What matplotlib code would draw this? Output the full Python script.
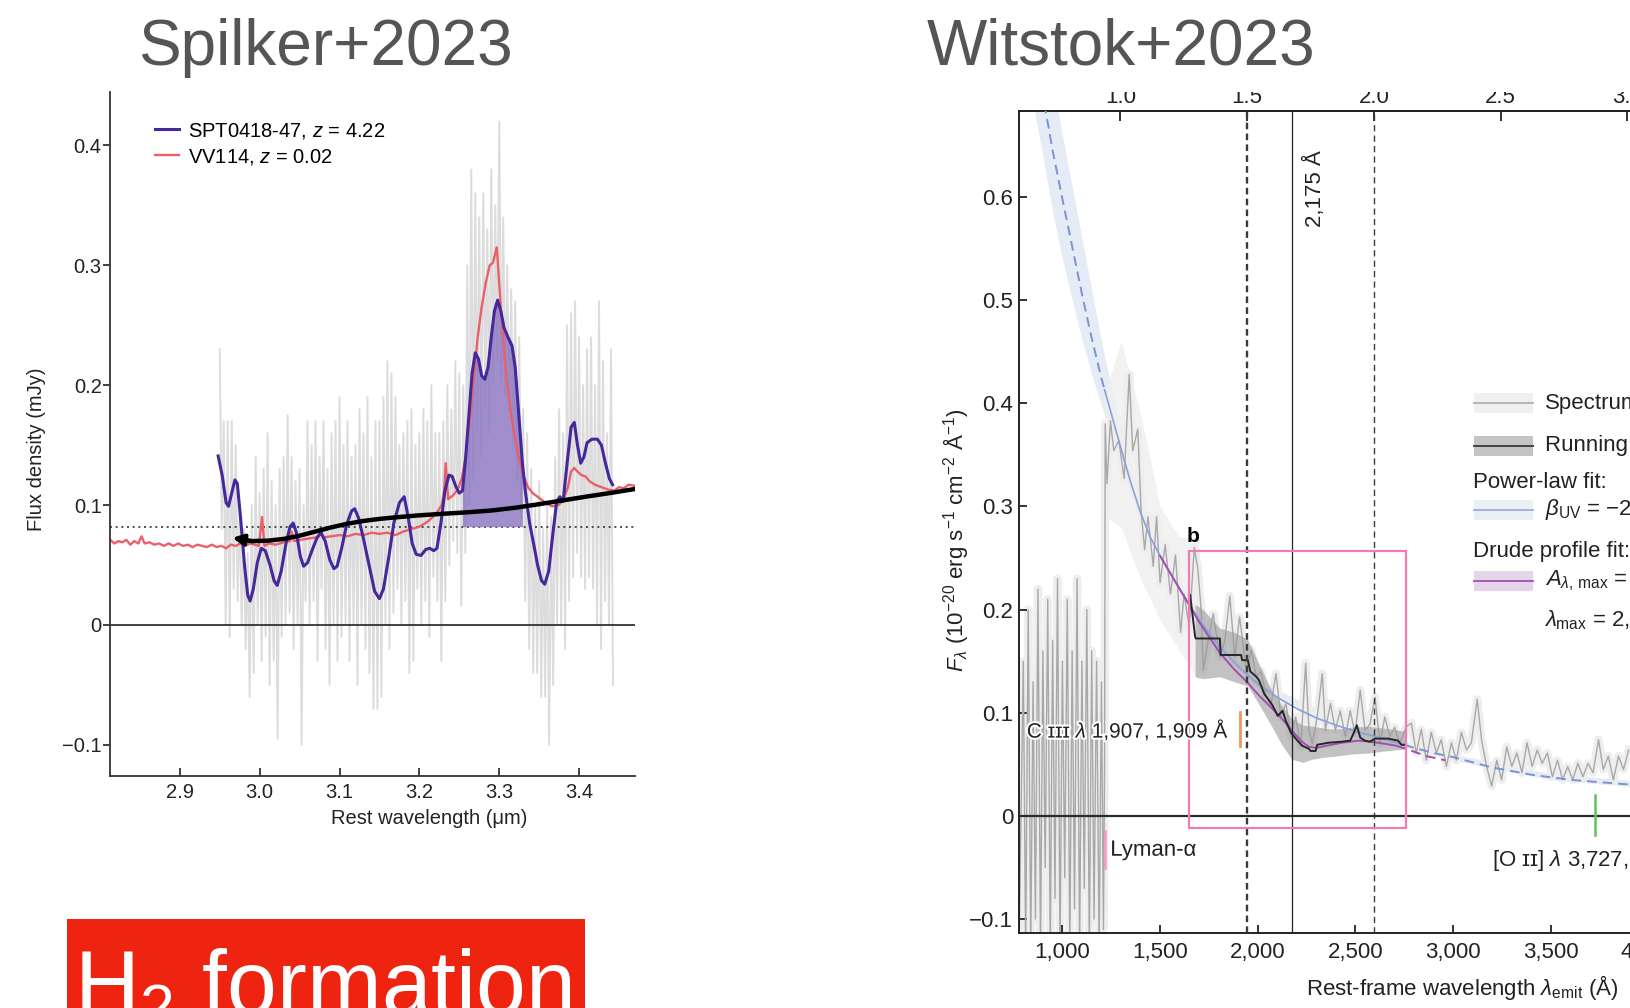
import numpy as np
import matplotlib
matplotlib.use("Agg")
import matplotlib.pyplot as plt
import matplotlib.patheffects as pe
from matplotlib.patches import Rectangle
from matplotlib.lines import Line2D
from matplotlib.ticker import FuncFormatter

plt.rcParams["font.family"] = ["Liberation Sans", "DejaVu Sans"]
plt.rcParams["mathtext.fontset"] = "custom"
plt.rcParams["mathtext.rm"] = "Liberation Sans"
plt.rcParams["mathtext.it"] = "Liberation Sans:italic"
plt.rcParams["mathtext.bf"] = "Liberation Sans:bold"

# ---------------- SPT0418-47 / VV114 (3.3 um PAH) ----------------
# raw spectrum: alternating high/low samples on a 0.005 um grid
spec_wl = np.arange(2.950, 3.4401, 0.005)
spec_hi = [0.23, 0.17, 0.17, 0.17, 0.15, 0.10, 0.08, 0.06, 0.10, 0.14,
           0.11, 0.13, 0.16, 0.12, 0.10, 0.13, 0.14, 0.175, 0.14, 0.12,
           0.13, 0.10, 0.17, 0.15, 0.17, 0.14, 0.17, 0.13, 0.16, 0.17,
           0.19, 0.15, 0.17, 0.14, 0.15, 0.18, 0.16, 0.19, 0.14, 0.17,
           0.17, 0.19, 0.22, 0.21, 0.19, 0.15, 0.16, 0.17, 0.18, 0.15,
           0.16, 0.18, 0.17, 0.20, 0.16, 0.16, 0.17, 0.20, 0.18, 0.22,
           0.21, 0.20, 0.30, 0.38, 0.36, 0.34, 0.36, 0.33, 0.38, 0.35,
           0.42, 0.34, 0.30, 0.28, 0.27, 0.24, 0.18, 0.16, 0.13, 0.10,
           0.12, 0.08, 0.10, 0.09, 0.14, 0.18, 0.16, 0.25, 0.26, 0.27,
           0.24, 0.20, 0.23, 0.24, 0.20, 0.27, 0.22, 0.16, 0.23]
spec_lo = [0.08, 0.0, -0.01, 0.03, 0.02, 0.0, -0.02, -0.06, -0.04, 0.0,
           -0.03, -0.01, -0.05, -0.03, -0.095, -0.01, 0.0, 0.01, -0.02, 0.0,
           -0.10, 0.02, 0.0, 0.02, -0.03, 0.03, -0.02, -0.05, 0.0, -0.03,
           -0.01, 0.0, -0.03, 0.0, -0.05, 0.0, -0.02, -0.04, -0.07, -0.07,
           -0.06, 0.0, -0.02, 0.01, 0.03, 0.0, 0.02, -0.04, -0.03, 0.03,
           0.0, 0.02, -0.01, 0.04, 0.02, -0.03, 0.02, 0.05, 0.07, 0.06,
           0.016, 0.06, 0.10, 0.12, 0.16, 0.14, 0.18, 0.16, 0.20, 0.22,
           0.20, 0.19, 0.18, 0.15, 0.12, 0.09, 0.02, -0.02, -0.04, -0.04,
           -0.06, -0.06, -0.10, -0.05, 0.0, 0.0, -0.02, 0.02, 0.04, 0.06,
           0.04, 0.03, 0.04, 0.03, 0.0, -0.02, 0.02, 0.0, -0.05]

spt_wl = [2.948, 2.953, 2.958, 2.961, 2.965, 2.969, 2.972, 2.976, 2.981, 2.985,
          2.988, 2.992, 2.997, 3.002, 3.007, 3.013, 3.018, 3.022, 3.027, 3.033,
          3.038, 3.042, 3.046, 3.051, 3.055, 3.060, 3.066, 3.072, 3.077, 3.082,
          3.088, 3.093, 3.097, 3.103, 3.109, 3.115, 3.119, 3.124, 3.130, 3.137,
          3.144, 3.150, 3.155, 3.162, 3.168, 3.175, 3.181, 3.186, 3.191, 3.196,
          3.202, 3.208, 3.213, 3.218, 3.222, 3.227, 3.232, 3.237, 3.241, 3.246,
          3.250, 3.254, 3.258, 3.262, 3.266, 3.270, 3.274, 3.278, 3.282, 3.286,
          3.290, 3.294, 3.298, 3.302, 3.306, 3.311, 3.316, 3.320, 3.324, 3.329,
          3.333, 3.338, 3.343, 3.348, 3.353, 3.357, 3.362, 3.367, 3.372, 3.376,
          3.380, 3.385, 3.390, 3.394, 3.398, 3.402, 3.406, 3.410, 3.416, 3.423,
          3.428, 3.433, 3.438, 3.442]
spt_flux = [0.141, 0.125, 0.102, 0.099, 0.110, 0.121, 0.118, 0.090, 0.050, 0.025,
            0.020, 0.030, 0.052, 0.064, 0.062, 0.050, 0.037, 0.033, 0.045, 0.068,
            0.082, 0.085, 0.077, 0.057, 0.049, 0.052, 0.063, 0.073, 0.077, 0.070,
            0.054, 0.047, 0.049, 0.065, 0.084, 0.095, 0.097, 0.089, 0.072, 0.050,
            0.028, 0.022, 0.030, 0.058, 0.085, 0.102, 0.107, 0.090, 0.068, 0.059,
            0.058, 0.063, 0.064, 0.062, 0.064, 0.085, 0.112, 0.125, 0.124, 0.115,
            0.110, 0.112, 0.140, 0.175, 0.210, 0.227, 0.222, 0.208, 0.205, 0.215,
            0.240, 0.262, 0.271, 0.262, 0.248, 0.240, 0.233, 0.215, 0.180, 0.135,
            0.110, 0.085, 0.068, 0.050, 0.037, 0.034, 0.045, 0.075, 0.103, 0.107,
            0.103, 0.135, 0.165, 0.169, 0.150, 0.135, 0.140, 0.152, 0.155, 0.155,
            0.150, 0.135, 0.122, 0.117]

vv_wl = [2.813, 2.818, 2.823, 2.828, 2.833, 2.838, 2.843, 2.848, 2.852, 2.856,
         2.862, 2.868, 2.874, 2.880, 2.886, 2.892, 2.898, 2.904, 2.910, 2.916,
         2.922, 2.928, 2.934, 2.940, 2.946, 2.952, 2.958, 2.964, 2.970, 2.976,
         2.982, 2.988, 2.994, 2.999, 3.003, 3.006, 3.012, 3.020, 3.030, 3.038,
         3.040, 3.043, 3.050, 3.060, 3.070, 3.074, 3.076, 3.079, 3.090, 3.100,
         3.110, 3.120, 3.130, 3.140, 3.150, 3.160, 3.170, 3.180, 3.190, 3.200,
         3.210, 3.220, 3.228, 3.231, 3.233, 3.236, 3.242, 3.248, 3.253, 3.258,
         3.263, 3.268, 3.273, 3.278, 3.283, 3.288, 3.292, 3.295, 3.297, 3.299,
         3.302, 3.306, 3.310, 3.315, 3.320, 3.325, 3.330, 3.336, 3.342, 3.350,
         3.358, 3.366, 3.374, 3.380, 3.386, 3.390, 3.394, 3.398, 3.403, 3.408,
         3.413, 3.420, 3.428, 3.436, 3.444, 3.450, 3.456, 3.462, 3.4705]
vv_flux = [0.071, 0.068, 0.070, 0.069, 0.071, 0.067, 0.070, 0.068, 0.074, 0.068,
           0.069, 0.067, 0.068, 0.066, 0.068, 0.066, 0.068, 0.066, 0.067, 0.065,
           0.067, 0.066, 0.065, 0.067, 0.065, 0.066, 0.064, 0.067, 0.066, 0.068,
           0.066, 0.068, 0.067, 0.066, 0.090, 0.066, 0.068, 0.067, 0.069, 0.070,
           0.078, 0.070, 0.071, 0.072, 0.073, 0.074, 0.080, 0.073, 0.074, 0.075,
           0.074, 0.076, 0.075, 0.077, 0.076, 0.077, 0.075, 0.078, 0.080, 0.082,
           0.086, 0.092, 0.100, 0.112, 0.135, 0.105, 0.108, 0.113, 0.122, 0.140,
           0.170, 0.205, 0.240, 0.265, 0.285, 0.300, 0.302, 0.310, 0.315, 0.295,
           0.265, 0.230, 0.200, 0.175, 0.155, 0.138, 0.125, 0.115, 0.110, 0.106,
           0.102, 0.099, 0.100, 0.104, 0.115, 0.128, 0.131, 0.128, 0.125, 0.124,
           0.120, 0.117, 0.115, 0.113, 0.112, 0.115, 0.114, 0.117, 0.116]

cont_wl = [2.975, 2.990, 3.010, 3.030, 3.050, 3.070, 3.090, 3.110, 3.130, 3.150,
           3.170, 3.200, 3.230, 3.260, 3.290, 3.320, 3.350, 3.380, 3.410, 3.440, 3.4705]
cont_flux = [0.0712, 0.0700, 0.0703, 0.0718, 0.0745, 0.0780, 0.0815, 0.0845, 0.0868, 0.0885,
             0.0898, 0.0915, 0.0928, 0.0940, 0.0955, 0.0978, 0.1008, 0.1040, 0.1072, 0.1102, 0.1135]
cont_tip = (2.9658, 0.0728)
pah_base = 0.082
pah_range = (3.254, 3.329)

# ---------------- JADES z=6.71 UV spectrum ----------------
z_src = 6.71

rs_wl = [778, 800, 812, 825, 838, 850, 862, 875, 888, 900,
         912, 925, 938, 950, 962, 975, 988, 1000, 1012, 1025,
         1038, 1050, 1062, 1075, 1088, 1100, 1112, 1125, 1138, 1150,
         1162, 1175, 1188, 1200, 1210, 1216,
         1219, 1228, 1246, 1263, 1289, 1316, 1342, 1360, 1386, 1403,
         1421, 1438, 1465, 1482, 1500, 1526, 1553, 1579, 1605, 1623,
         1649, 1675, 1693, 1710, 1721, 1747, 1772, 1806, 1831, 1857,
         1882, 1907, 1941, 1967, 1992, 2017, 2043, 2068, 2093, 2118,
         2144, 2169, 2194, 2220, 2245, 2262, 2279, 2304, 2330, 2346,
         2372, 2397, 2422, 2448, 2473, 2498, 2524, 2549, 2574, 2600,
         2625, 2650, 2676, 2701, 2726,
         2760, 2786, 2811, 2837, 2862, 2888, 2914, 2939, 2965, 2991,
         3016, 3042, 3068, 3093, 3123, 3145, 3171, 3197, 3223, 3248,
         3274, 3300, 3326, 3352, 3378, 3404, 3430, 3456, 3482, 3508,
         3534, 3560, 3586, 3612, 3638, 3664, 3690, 3716, 3744, 3768,
         3794, 3820, 3846, 3872, 3898]
rs_flux = [-0.13, 0.15, -0.13, 0.20, -0.13, 0.13, -0.10, 0.22, -0.13, 0.16,
           -0.05, 0.21, -0.13, 0.17, -0.08, 0.23, -0.13, 0.15, -0.06, 0.21,
           -0.13, 0.16, -0.09, 0.23, -0.13, 0.15, -0.07, 0.20, -0.13, 0.16,
           -0.10, 0.15, -0.13, 0.13, -0.11, 0.05,
           0.380, 0.322, 0.383, 0.354, 0.364, 0.327, 0.428, 0.354, 0.375, 0.295,
           0.258, 0.290, 0.242, 0.290, 0.226, 0.263, 0.215, 0.253, 0.178, 0.215,
           0.183, 0.260, 0.240, 0.200, 0.141, 0.171, 0.196, 0.154, 0.170, 0.213,
           0.154, 0.193, 0.141, 0.161, 0.135, 0.140, 0.116, 0.109, 0.138, 0.096,
           0.109, 0.077, 0.096, 0.067, 0.148, 0.083, 0.070, 0.096, 0.138, 0.083,
           0.109, 0.083, 0.102, 0.077, 0.102, 0.080, 0.122, 0.083, 0.089, 0.115,
           0.070, 0.096, 0.077, 0.086, 0.070,
           0.0865, 0.090, 0.061, 0.084, 0.054, 0.081, 0.061, 0.074, 0.048, 0.071,
           0.054, 0.081, 0.064, 0.071, 0.113, 0.074, 0.048, 0.029, 0.054, 0.035,
           0.067, 0.048, 0.061, 0.042, 0.071, 0.048, 0.064, 0.051, 0.061, 0.038,
           0.054, 0.035, 0.048, 0.035, 0.051, 0.038, 0.051, 0.042, 0.074, 0.045,
           0.058, 0.035, 0.058, 0.045, 0.064]

# light error envelope just redward of Lyman-alpha
env_wl = [1218, 1300, 1400, 1500, 1600, 1700]
env_lo = [0.29, 0.28, 0.23, 0.19, 0.16, 0.13]
env_hi = [0.41, 0.46, 0.39, 0.30, 0.27, 0.27]

rm_wl = [1654, 1679, 1683, 1806, 1810, 1915, 1920, 1949, 1962, 1992,
         2005, 2034, 2050, 2076, 2102, 2127, 2144, 2169, 2203, 2228,
         2262, 2270, 2296, 2304, 2363, 2431, 2473, 2490, 2507, 2524,
         2549, 2574, 2600, 2667, 2718, 2735, 2758]
rm_flux = [0.214, 0.174, 0.172, 0.172, 0.156, 0.156, 0.151, 0.151, 0.140, 0.135,
           0.132, 0.118, 0.114, 0.107, 0.097, 0.102, 0.092, 0.081, 0.073, 0.068,
           0.065, 0.063, 0.063, 0.069, 0.071, 0.072, 0.073, 0.080, 0.088, 0.076,
           0.073, 0.072, 0.075, 0.075, 0.073, 0.069, 0.069]
rm_band_wl = [1679, 1720, 1806, 1880, 1949, 2000, 2059, 2120, 2174, 2230,
              2279, 2340, 2397, 2480, 2566, 2650, 2758]
rm_band_lo = [0.135, 0.133, 0.135, 0.130, 0.126, 0.110, 0.091, 0.070, 0.055, 0.052,
              0.055, 0.057, 0.058, 0.060, 0.061, 0.063, 0.065]
rm_band_hi = [0.205, 0.200, 0.182, 0.178, 0.171, 0.150, 0.126, 0.108, 0.094, 0.088,
              0.087, 0.085, 0.084, 0.086, 0.087, 0.085, 0.082]

pl_wl = [880, 950, 1000, 1050, 1100, 1150, 1200, 1216, 1250, 1300,
         1350, 1400, 1450, 1500, 1600, 1700, 1800, 1900, 2000, 2100,
         2200, 2300, 2400, 2500, 2600, 2700, 2750, 2800, 2900, 3000,
         3200, 3400, 3600, 3800, 4000, 4200]
pl_flux = [0.72, 0.645, 0.598, 0.552, 0.506, 0.463, 0.424, 0.413, 0.390, 0.356,
           0.323, 0.294, 0.270, 0.252, 0.220, 0.190, 0.165, 0.145, 0.128, 0.115,
           0.104, 0.095, 0.088, 0.082, 0.077, 0.0715, 0.069, 0.066, 0.061, 0.057,
           0.047, 0.040, 0.035, 0.032, 0.029, 0.027]
pl_band_wl = [860, 900, 950, 1000, 1050, 1100, 1150, 1200, 1250, 1300,
              1400, 1500, 1600, 1800, 2000, 2500, 3000, 3500, 4200]
pl_band_lo = [0.68, 0.64, 0.585, 0.54, 0.50, 0.462, 0.428, 0.398, 0.368, 0.338,
              0.283, 0.245, 0.214, 0.161, 0.124, 0.079, 0.054, 0.035, 0.024]
pl_band_hi = [0.82, 0.77, 0.71, 0.66, 0.61, 0.56, 0.51, 0.46, 0.416, 0.376,
              0.306, 0.259, 0.226, 0.169, 0.132, 0.085, 0.060, 0.041, 0.030]

dr_wl = [1500, 1600, 1700, 1806, 1880, 1949, 2010, 2059, 2120, 2174,
         2220, 2262, 2300, 2350, 2431, 2515, 2574, 2650, 2710]
dr_flux = [0.252, 0.220, 0.188, 0.158, 0.142, 0.129, 0.116, 0.107, 0.095, 0.083,
           0.073, 0.067, 0.066, 0.068, 0.071, 0.073, 0.072, 0.070, 0.068]
dr_tail_wl = [2710, 2790, 2863, 2960]
dr_tail_flux = [0.068, 0.063, 0.058, 0.054]

bump_centre = 2175
obs_lines = [1.5, 2.0]          # observed-frame um
box_wl = (1648, 2758)
box_flux = (-0.0119, 0.2568)


def flux_fmt(v, _):
    if abs(v) < 1e-9:
        return "0"
    return f"{v:.1f}".replace("-", "\u2212")


fig = plt.figure(figsize=(16.3, 10.08), dpi=100)

# ---------------- left panel ----------------
ax1 = fig.add_axes([0.0675, 0.2300, 0.3223, 0.6787])
ax1.set_xlim(2.8126, 3.4705)
ax1.set_ylim(-0.1261, 0.4446)

gx = np.column_stack([spec_wl, spec_wl + 0.0025]).ravel()
gy = np.column_stack([spec_hi, spec_lo]).ravel()
ax1.plot(gx, gy, color="#dcdcdc", lw=1.4, zorder=1)
ax1.axhline(0, color="#222222", lw=1.2, zorder=1.5)
ax1.axhline(pah_base, color="#333333", lw=1.2, ls=(0, (1.2, 2.2)), zorder=1.5)

bw = np.array(spt_wl)
bf = np.array(spt_flux)
mask = (bw >= pah_range[0]) & (bw <= pah_range[1])
ax1.fill_between(bw, pah_base, bf, where=mask, color="#8c76c2", alpha=0.82,
                 lw=0, zorder=2)
ax1.plot(vv_wl, vv_flux, color="#e9606b", lw=1.7, zorder=2.5,
         label="VV114, $z$ = 0.02")
ax1.plot(spt_wl, spt_flux, color="#46289a", lw=2.2, zorder=3,
         label="SPT0418-47, $z$ = 4.22")
ax1.plot(cont_wl, cont_flux, color="black", lw=3.2, zorder=4,
         solid_capstyle="round")
ax1.annotate("", xy=cont_tip, xytext=(cont_wl[1], cont_flux[1]),
             arrowprops=dict(arrowstyle="-|>", color="black", lw=3.0,
                             mutation_scale=16, shrinkA=0, shrinkB=0),
             zorder=4)

handles, labels = ax1.get_legend_handles_labels()
ax1.legend(handles[::-1], labels[::-1], loc="upper left",
           bbox_to_anchor=(0.085, 0.958), frameon=False, fontsize=14.5,
           handlelength=1.2, handletextpad=0.45, borderaxespad=0,
           borderpad=0, labelspacing=0.3)

for s in ["top", "right"]:
    ax1.spines[s].set_visible(False)
for s in ["left", "bottom"]:
    ax1.spines[s].set_color("#333333")
    ax1.spines[s].set_linewidth(1.3)
ax1.set_xticks([2.9, 3.0, 3.1, 3.2, 3.3, 3.4])
ax1.set_yticks([-0.1, 0, 0.1, 0.2, 0.3, 0.4])
ax1.xaxis.set_major_formatter(FuncFormatter(lambda v, _: f"{v:.1f}"))
ax1.yaxis.set_major_formatter(FuncFormatter(flux_fmt))
ax1.tick_params(axis="y", direction="out", length=5, width=1.2,
                labelsize=14.5, pad=1, colors="#222222")
ax1.tick_params(axis="x", direction="in", length=6, width=1.2,
                labelsize=14.5, pad=5, colors="#222222")
fig.text(37 / 1630, 1 - 449 / 1008, "Flux density (mJy)", rotation=90,
         ha="center", va="center", fontsize=14.5, color="#222222")
fig.text(429 / 1630, 1 - 818 / 1008, "Rest wavelength (\u03bcm)",
         ha="center", va="center", fontsize=14.5, color="#222222")

# ---------------- right panel ----------------
ax2 = fig.add_axes([1018.7 / 1630, 1 - 933.3 / 1008, 0.4104, 822.1 / 1008])
ax2.set_xlim(776.4, 4200)
ax2.set_ylim(-0.1137, 0.683)

ax2.fill_between(pl_band_wl, pl_band_lo, pl_band_hi, color="#e6ecf5",
                 lw=0, zorder=1)
ax2.fill_between(env_wl, env_lo, env_hi, color="#efefef", alpha=0.8,
                 lw=0, zorder=1.1)
ax2.plot(rs_wl, rs_flux, color="#eeeeee", lw=6, zorder=1.2,
         solid_joinstyle="round")
ax2.plot(rs_wl, rs_flux, color="#a8a8a8", lw=1.0, zorder=2)
ax2.fill_between(rm_band_wl, rm_band_lo, rm_band_hi, color="#9a9a9a",
                 alpha=0.6, lw=0, zorder=2.5)

pw = np.array(pl_wl)
pf = np.array(pl_flux)
solid = (pw >= 1216) & (pw <= 2750)
ax2.plot(pw[pw <= 1216], pf[pw <= 1216], color="#7b93d1", lw=1.4,
         ls=(0, (5, 3)), zorder=3)
ax2.plot(pw[pw >= 2750], pf[pw >= 2750], color="#7b93d1", lw=1.4,
         ls=(0, (5, 3)), zorder=3)
ax2.plot(pw[solid], pf[solid], color="#88a1da", lw=1.2, zorder=3)
ax2.plot(dr_wl, dr_flux, color="#a24fb2", lw=1.4, zorder=3.2)
ax2.plot(dr_tail_wl, dr_tail_flux, color="#a24fb2", lw=1.4,
         ls=(0, (5, 3)), zorder=3.2)
ax2.plot(rm_wl, rm_flux, color="#262626", lw=1.4, zorder=4)

obs_to_rest = lambda o: np.asarray(o) * 1e4 / (1 + z_src)
rest_to_obs = lambda w: np.asarray(w) * (1 + z_src) / 1e4
ax2.axvline(obs_to_rest(obs_lines[0]), color="#3a3a3a", lw=1.7,
            ls=(0, (2.8, 1.8)), zorder=4.5)
ax2.axvline(obs_to_rest(obs_lines[1]), color="#3a3a3a", lw=1.0,
            ls=(0, (4.5, 3)), zorder=4.5)
ax2.axvline(bump_centre, color="#222222", lw=0.9, zorder=4.5)
ax2.axhline(0, color="#2a2a2a", lw=1.6, zorder=4.5)

ax2.add_patch(Rectangle((box_wl[0], box_flux[0]), box_wl[1] - box_wl[0],
                        box_flux[1] - box_flux[0], fill=False,
                        ec="#f07cb4", lw=1.6, zorder=5))
ax2.text(1670, 0.271, "b", fontsize=15, fontweight="bold", ha="center",
         va="center", zorder=6)
ax2.text(2294, 0.6076, "2,175 \u00c5", rotation=90, fontsize=16,
         ha="center", va="center", color="#222222", zorder=6)

halo = [pe.withStroke(linewidth=3, foreground="white")]
ax2.plot([1908, 1908], [0.068, 0.101], color="#f4955e", lw=2.0, zorder=6)
ax2.text(1856, 0.0836, "C \u026a\u026a\u026a $\\lambda$ 1,907, 1,909 \u00c5",
         fontsize=15, ha="right", va="center", color="#222222",
         path_effects=halo, zorder=6)
ax2.plot([1216, 1216], [-0.015, -0.05], color="#f39ac6", lw=1.8, zorder=6)
ax2.text(1245, -0.0332, "Lyman-\u03b1", fontsize=16, ha="left",
         va="center", color="#222222", path_effects=halo, zorder=6)
ax2.plot([3728, 3728], [0.02, -0.018], color="#5fc35f", lw=1.8, zorder=6)
ax2.text(3197, -0.0413, "[O \u026a\u026a] $\\lambda$ 3,727, 3,730 \u00c5",
         fontsize=16, ha="left", va="center", color="#222222", zorder=6)

for s in ["left", "bottom", "top"]:
    ax2.spines[s].set_linewidth(1.4)
    ax2.spines[s].set_color("#222222")
ax2.spines["right"].set_visible(False)
ax2.set_xticks([1000, 1500, 2000, 2500, 3000, 3500, 4000])
ax2.set_yticks([-0.1, 0, 0.1, 0.2, 0.3, 0.4, 0.5, 0.6])
ax2.xaxis.set_major_formatter(FuncFormatter(lambda v, _: f"{int(v):,}"))
ax2.yaxis.set_major_formatter(FuncFormatter(flux_fmt))
ax2.tick_params(axis="both", direction="in", length=6, width=1.3,
                labelsize=16, colors="#222222")
ax2.tick_params(axis="x", pad=6)
ax2.tick_params(axis="y", pad=4)

secax = ax2.secondary_xaxis("top", functions=(rest_to_obs, obs_to_rest))
secax.set_xticks([1.0, 1.5, 2.0, 2.5, 3.0])
secax.xaxis.set_major_formatter(FuncFormatter(lambda v, _: f"{v:.1f}"))
secax.tick_params(direction="in", length=7, width=1.3, labelsize=16,
                  pad=2.5, colors="#222222")
secax.spines["top"].set_linewidth(1.4)

fig.text(956 / 1630, 1 - 540 / 1008,
         "$F_\\lambda$ (10$^{\u221220}$ erg s$^{\u22121}$ cm$^{\u22122}$ \u00c5$^{\u22121}$)",
         rotation=90, ha="center", va="center", fontsize=16, color="#222222")
fig.text(1462 / 1630, 1 - 987 / 1008,
         "Rest-frame wavelength $\\lambda_{\\rm emit}$ (\u00c5)",
         ha="center", va="center", fontsize=16, color="#222222")

# legend on the right, drawn by hand in figure pixels
W, H = 1630.0, 1008.0


def fx(px):
    return px / W


def fy(py):
    return 1 - py / H


entries = [
    (403, "#efefef", "#b5b5b5", "Spectrum"),
    (446, "#c4c4c4", "#444444", "Running median"),
    (510, "#e9eff3", "#9fb3de", "$\\beta_{\\rm UV}$ = \u22122.0"),
    (581, "#e6d5ea", "#a45db0", "$A_{\\lambda,\\,\\rm max}$ = 0.4"),
]
for yc, pc, lc, txt in entries:
    fig.add_artist(Rectangle((fx(1474), fy(yc + 10)), fx(1533) - fx(1474),
                             20 / H, transform=fig.transFigure, fc=pc,
                             ec="none", zorder=2))
    fig.add_artist(Line2D([fx(1474), fx(1533)], [fy(yc), fy(yc)],
                          transform=fig.transFigure, color=lc, lw=1.4,
                          zorder=2.1))
    fig.text(fx(1545), fy(yc), txt, fontsize=16, ha="left", va="center",
             color="#222222", zorder=3)
fig.text(fx(1473), fy(482), "Power-law fit:", fontsize=16, ha="left",
         va="center", color="#222222")
fig.text(fx(1473), fy(551), "Drude profile fit:", fontsize=16, ha="left",
         va="center", color="#222222")
fig.text(fx(1544), fy(618), "$\\lambda_{\\rm max}$ = 2,263 \u00c5",
         fontsize=16, ha="left", va="center", color="#222222")

# headings and label box
fig.add_artist(Rectangle((fx(900), fy(92)), 1 - fx(900), 92 / H,
                         transform=fig.transFigure, fc="white", ec="none",
                         zorder=1.5))
fig.text(fx(325), fy(64.5), "Spilker+2023", fontsize=46, ha="center",
         va="baseline", color="#555555", zorder=3)
fig.text(fx(1121), fy(64.5), "Witstok+2023", fontsize=46, ha="center",
         va="baseline", color="#555555", zorder=3)
fig.add_artist(Rectangle((fx(66.5), 0), fx(585) - fx(66.5), 89 / H,
                         transform=fig.transFigure, fc="#ee2410", ec="none",
                         zorder=1.5))
fig.text(fx(74), fy(1015), "H$_2$ formation", fontsize=64.5, ha="left",
         va="baseline", color="white", zorder=3)

fig.savefig("out.png", dpi=100)
